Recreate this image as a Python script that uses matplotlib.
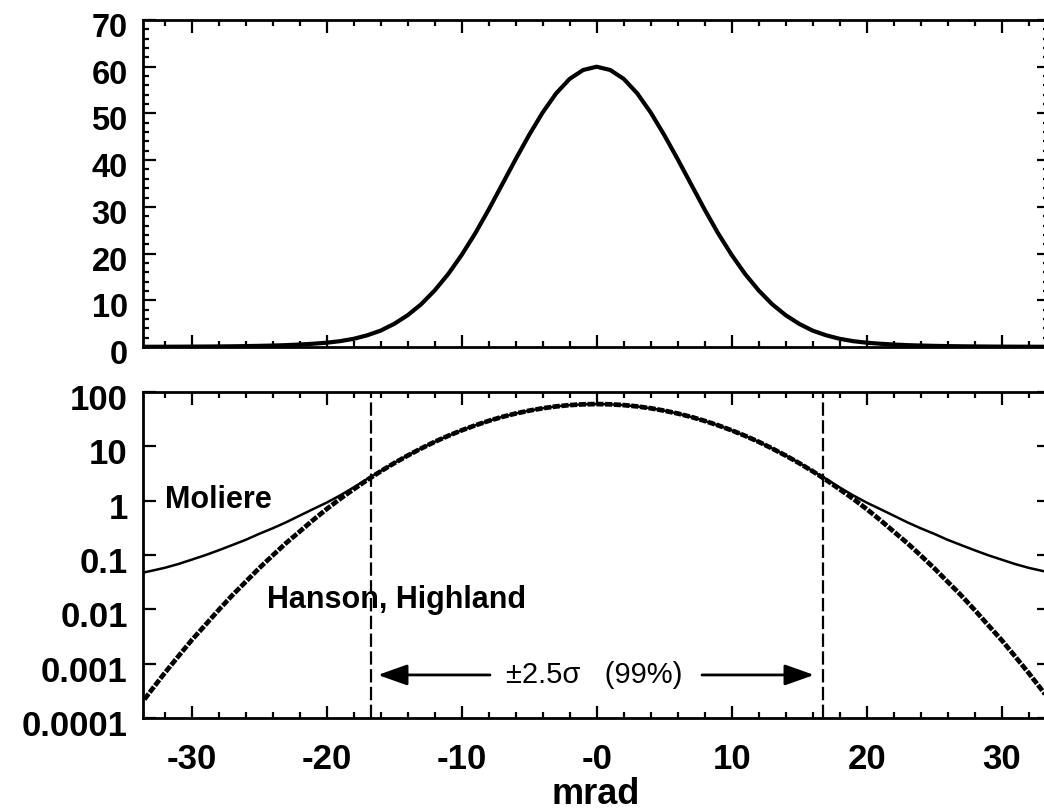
import matplotlib
matplotlib.use('Agg')
import matplotlib.pyplot as plt
from matplotlib.ticker import MultipleLocator, FixedLocator, NullLocator, FixedFormatter
import matplotlib.transforms as mtrans

plt.rcParams['font.family'] = ['Liberation Sans', 'DejaVu Sans']

# ---- data ----
angle_mrad = [-33.5, -33, -32, -31, -30, -29, -28, -27, -26, -25, -24, -23, -22, -21, -20,
              -19, -18, -17, -16, -15, -14, -13, -12, -11, -10, -9, -8, -7, -6, -5, -4, -3,
              -2, -1, 0, 1, 2, 3, 4, 5, 6, 7, 8, 9, 10, 11, 12, 13, 14, 15, 16, 17, 18, 19,
              20, 21, 22, 23, 24, 25, 26, 27, 28, 29, 30, 31, 32, 33, 33.5]

moliere = [0.048, 0.051, 0.058, 0.068, 0.082, 0.099, 0.122, 0.152, 0.19, 0.245, 0.31, 0.40,
           0.53, 0.70, 0.92, 1.25, 1.75, 2.5, 3.5, 4.95, 6.8, 9.15, 12.1, 15.6, 19.7, 24.3,
           29.4, 34.8, 40.2, 45.4, 50.2, 54.3, 57.4, 59.3, 60.0, 59.3, 57.4, 54.3, 50.2, 45.4,
           40.2, 34.8, 29.4, 24.3, 19.7, 15.6, 12.1, 9.15, 6.8, 4.95, 3.5, 2.5, 1.75, 1.25,
           0.92, 0.70, 0.53, 0.40, 0.31, 0.245, 0.19, 0.152, 0.122, 0.099, 0.082, 0.068,
           0.058, 0.051, 0.048]

hanson_highland = [0.00022, 0.00032, 0.00067, 0.00135, 0.0027, 0.0051, 0.0097, 0.018, 0.032,
                   0.057, 0.098, 0.166, 0.27, 0.44, 0.70, 1.08, 1.62, 2.4, 3.47, 4.9, 6.76,
                   9.13, 12.1, 15.6, 19.7, 24.3, 29.4, 34.8, 40.2, 45.4, 50.2, 54.3, 57.4, 59.3,
                   60.0, 59.3, 57.4, 54.3, 50.2, 45.4, 40.2, 34.8, 29.4, 24.3, 19.7, 15.6, 12.1,
                   9.13, 6.76, 4.9, 3.47, 2.4, 1.62, 1.08, 0.70, 0.44, 0.27, 0.166, 0.098, 0.057,
                   0.032, 0.018, 0.0097, 0.0051, 0.0027, 0.00135, 0.00067, 0.00032, 0.00022]

cut_mrad = [-16.75, 16.75]
x_ticks = [-30, -20, -10, 0, 10, 20, 30]
x_tick_labels = ['-30', '-20', '-10', '-0', '10', '20', '30']
lin_ticks = [0, 10, 20, 30, 40, 50, 60, 70]
log_ticks = [1e-4, 1e-3, 1e-2, 1e-1, 1, 10, 100]
log_tick_labels = ['0.0001', '0.001', '0.01', '0.1', '1', '10', '100']

# ---- figure ----
W, H = 1044, 811
fig = plt.figure(figsize=(W / 100, H / 100), dpi=100)


def rect(l, t, r, b):
    return [l / W, 1 - b / H, (r - l) / W, (b - t) / H]


ax1 = fig.add_axes(rect(143, 20, 1049, 347))
ax2 = fig.add_axes(rect(143, 392, 1049, 718))

xlim = (-33.6, 33.5)
label_shift = mtrans.ScaledTranslation(0, -0.05, fig.dpi_scale_trans)

for ax in (ax1, ax2):
    ax.set_xlim(*xlim)
    for s in ax.spines.values():
        s.set_linewidth(2.0)
    ax.xaxis.set_major_locator(FixedLocator(x_ticks))
    ax.xaxis.set_minor_locator(MultipleLocator(2))
    ax.tick_params(which='both', direction='in', top=True, right=True, width=1.6,
                   colors='black')
    ax.tick_params(which='major', length=9)
    ax.tick_params(which='minor', length=4.5)

# top panel (linear)
ax1.plot(angle_mrad, moliere, color='black', lw=3.0, solid_capstyle='round')
ax1.set_ylim(0, 70)
ax1.yaxis.set_major_locator(FixedLocator(lin_ticks))
ax1.yaxis.set_minor_locator(MultipleLocator(2))
ax1.tick_params(axis='x', labelbottom=False)
ax1.tick_params(axis='y', labelsize=23.5, pad=11)
for lb in ax1.get_yticklabels():
    lb.set_fontweight('bold')

# bottom panel (log)
ax2.set_yscale('log')
ax2.plot(angle_mrad, moliere, color='black', lw=1.8)
ax2.plot(angle_mrad, hanson_highland, color='black', lw=3.4, ls=(0, (1.5, 0.35)))
ax2.set_ylim(1e-4, 100)
ax2.yaxis.set_major_locator(FixedLocator(log_ticks))
ax2.yaxis.set_major_formatter(FixedFormatter(log_tick_labels))
ax2.yaxis.set_minor_locator(NullLocator())
ax2.xaxis.set_major_formatter(FixedFormatter(x_tick_labels))
ax2.tick_params(axis='y', labelsize=25, pad=11)
ax2.tick_params(axis='x', labelsize=25, pad=18)
for lb in ax2.get_yticklabels() + ax2.get_xticklabels():
    lb.set_fontweight('bold')

for ax in (ax1, ax2):
    for t in ax.yaxis.get_major_ticks():
        t.label1.set_transform(t.label1.get_transform() + label_shift)

for xc in cut_mrad:
    ax2.axvline(xc, color='black', lw=1.6, ls=(0, (6, 2)))

arrow_y = 6.2e-4
ap = dict(arrowstyle='-|>,head_length=0.9,head_width=0.32', lw=2, color='black',
          mutation_scale=20, shrinkA=0, shrinkB=0)
ax2.annotate('', xy=(-16.2, arrow_y), xytext=(-7.9, arrow_y), arrowprops=ap)
ax2.annotate('', xy=(16.1, arrow_y), xytext=(7.8, arrow_y), arrowprops=ap)
ax2.text(-0.2, arrow_y, '\u00b12.5\u03c3   (99%)', ha='center', va='center', fontsize=21)

ax2.text(-32.0, 1.02, 'Moliere', ha='left', va='center', fontsize=22, fontweight='bold')
ax2.text(-24.4, 0.0147, 'Hanson, Highland', ha='left', va='center', fontsize=22,
         fontweight='bold')

fig.text(596 / W, 1 - 795 / H, 'mrad', ha='center', va='center', fontsize=26,
         fontweight='bold')

fig.savefig('out.png', dpi=100)
